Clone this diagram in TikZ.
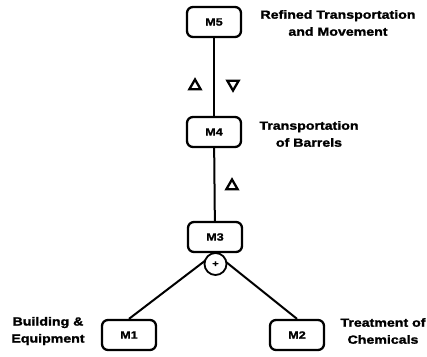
\documentclass[tikz,border=0pt]{standalone}
\usepackage{fontspec}
\setmainfont{Liberation Sans}[FakeStretch=1.2,BoldFeatures={FakeBold=1.6}]
\usetikzlibrary{shapes.geometric}
\begin{document}
\begin{tikzpicture}[x=1pt,y=-1pt,
  mbox/.style={draw,line width=2.3pt,rounded corners=6pt,minimum width=54pt,minimum height=30pt,inner sep=0pt,font=\bfseries\fontsize{10.5}{12}\selectfont},
  lbl/.style={align=center,inner sep=0pt,font=\bfseries\fontsize{11.8}{17}\selectfont},
  link/.style={line width=2pt},
  tri/.style={draw,line width=2.3pt,regular polygon,regular polygon sides=3,minimum size=13pt,inner sep=0pt},
  tridown/.style={tri,shape border rotate=180}]
\useasboundingbox (0,0) rectangle (427,356);
\node[mbox] (m5) at (214,22) {M5};
\node[mbox] (m4) at (214,132) {M4};
\node[mbox] (m3) at (215,237) {M3};
\node[mbox] (m1) at (129,335) {M1};
\node[mbox] (m2) at (297,335) {M2};
\draw[link] (m5) -- (m4);
\draw[link] (m4) -- (m3);
\draw[link] (m3.south) -- (m1.north);
\draw[link] (m3.south) -- (m2.north);
\node[draw,circle,fill=white,line width=1.8pt,minimum size=22pt,inner sep=0pt,font=\bfseries\fontsize{9}{10}\selectfont] (plus) at (215.5,264) {+};
\node[tri] (t1) at (195,86) {};
\node[tridown] (t2) at (233,84) {};
\node[tri] (t3) at (232,186) {};
\node[lbl] (l5) at (338,23) {Refined Transportation\\and Movement};
\node[lbl] (l4) at (309,134) {Transportation\\of Barrels};
\node[lbl] (l1) at (48,331) {Building \&\\Equipment};
\node[lbl] (l2) at (383,331) {Treatment of\\Chemicals};
\end{tikzpicture}
\end{document}
